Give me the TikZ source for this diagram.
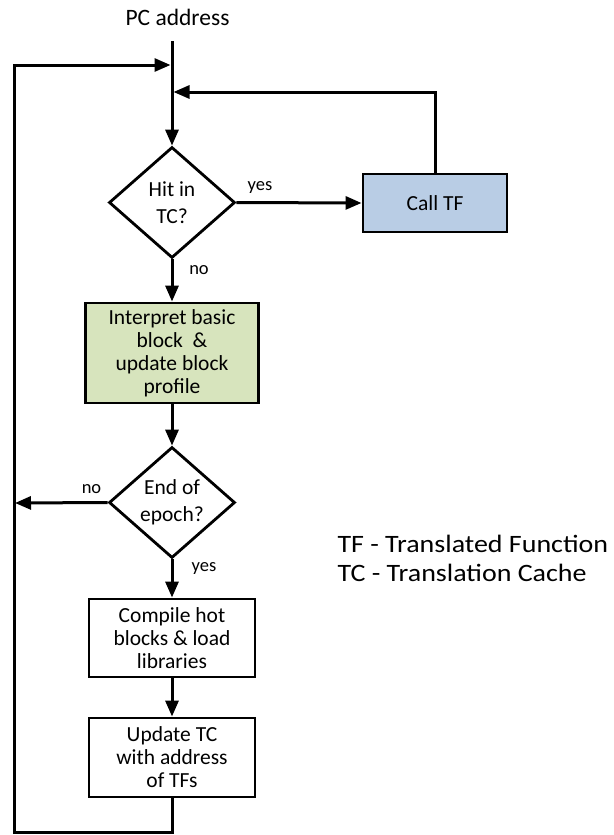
\documentclass[tikz,border=0pt]{standalone}
\usepackage{fontspec}
\setmainfont{Carlito}
\newfontfamily\legendfont[FakeStretch=1.12]{Carlito}
\usetikzlibrary{shapes.geometric,arrows.meta}

\definecolor{tfblue}{HTML}{B9CDE5}
\definecolor{interpgreen}{HTML}{D7E4BD}

\begin{document}
\begin{tikzpicture}[x=1pt,y=-1pt,
  line width=3pt,
  flow/.style={-{Triangle[length=16pt,width=13pt]}},
  stepbox/.style={draw, rectangle, line width=2.9pt, inner sep=0pt, align=center,
    font=\fontsize{21.5}{23}\selectfont},
  decision/.style={draw, diamond, line width=2.8pt, inner sep=0pt, align=center,
    minimum width=126pt, minimum height=111pt,
    font=\fontsize{21.5}{26.5}\selectfont},
  lbl/.style={font=\fontsize{18.5}{20}\selectfont, inner sep=0pt},
  legend/.style={anchor=base west, inner sep=0pt, font=\legendfont\fontsize{25}{29}\selectfont},
]
\useasboundingbox (0,0) rectangle (613,835);

% title of the entry point
\node[font=\fontsize{23.5}{26}\selectfont, inner sep=0pt] (pctext) at (177.5,17) {PC address};
\coordinate (pcin) at (172,41);

% decisions and steps
\node[decision] (hit) at (172,202.5) {Hit in\\TC?};
\node[stepbox, fill=tfblue, minimum width=144pt, minimum height=58pt] (call) at (435,203) {Call TF};
\node[stepbox, fill=interpgreen, minimum width=173pt, minimum height=100pt] (interp) at (172,353)
  {Interpret basic\\block\ \ \&\\update block\\profile};
\node[decision] (epoch) at (172,502.5) {End of\\epoch?};
\node[stepbox, minimum width=166pt, minimum height=78pt] (compile) at (172,638)
  {Compile hot\\blocks \& load\\libraries};
\node[stepbox, minimum width=166pt, minimum height=79pt] (update) at (172,757.5)
  {Update TC\\with address\\of TFs};

% loop corners
\coordinate (retTop) at (172,65);
\coordinate (tfTop) at (172,92);
\coordinate (bl) at (14,832);
\coordinate (br) at (172,832);
\coordinate (tl) at (14,65);
\coordinate (exitL) at (15,503);
\coordinate (callUp) at (call.north |- tfTop);

% main flow
\draw[flow] (pcin) -- (hit.north);
\draw[flow] (hit.east) -- (call.west);
\draw[flow] (hit.south) -- (interp.north);
\draw[flow] (interp.south) -- (epoch.north);
\draw[flow] (epoch.west) -- (exitL);
\draw[flow] (epoch.south) -- (compile.north);
\draw[flow] (compile.south) -- (update.north);

% return paths
\draw[flow] (call.north) -- (callUp) -- ([xshift=1.5pt]tfTop);
\draw[flow] (update.south) -- (br) -- (bl) -- (tl) -- ([xshift=-1.5pt]retTop);

% branch labels
\node[lbl] (yes1) at (260,188) {yes};
\node[lbl] (no1) at (199,270) {no};
\node[lbl] (no2) at (91.5,489) {no};
\node[lbl] (yes2) at (204,568) {yes};

% legend
\node[legend] (leg1) at (336,552) {TF - Translated Function};
\node[legend] (leg2) at (336,581) {TC - Translation Cache};
\end{tikzpicture}
\end{document}
